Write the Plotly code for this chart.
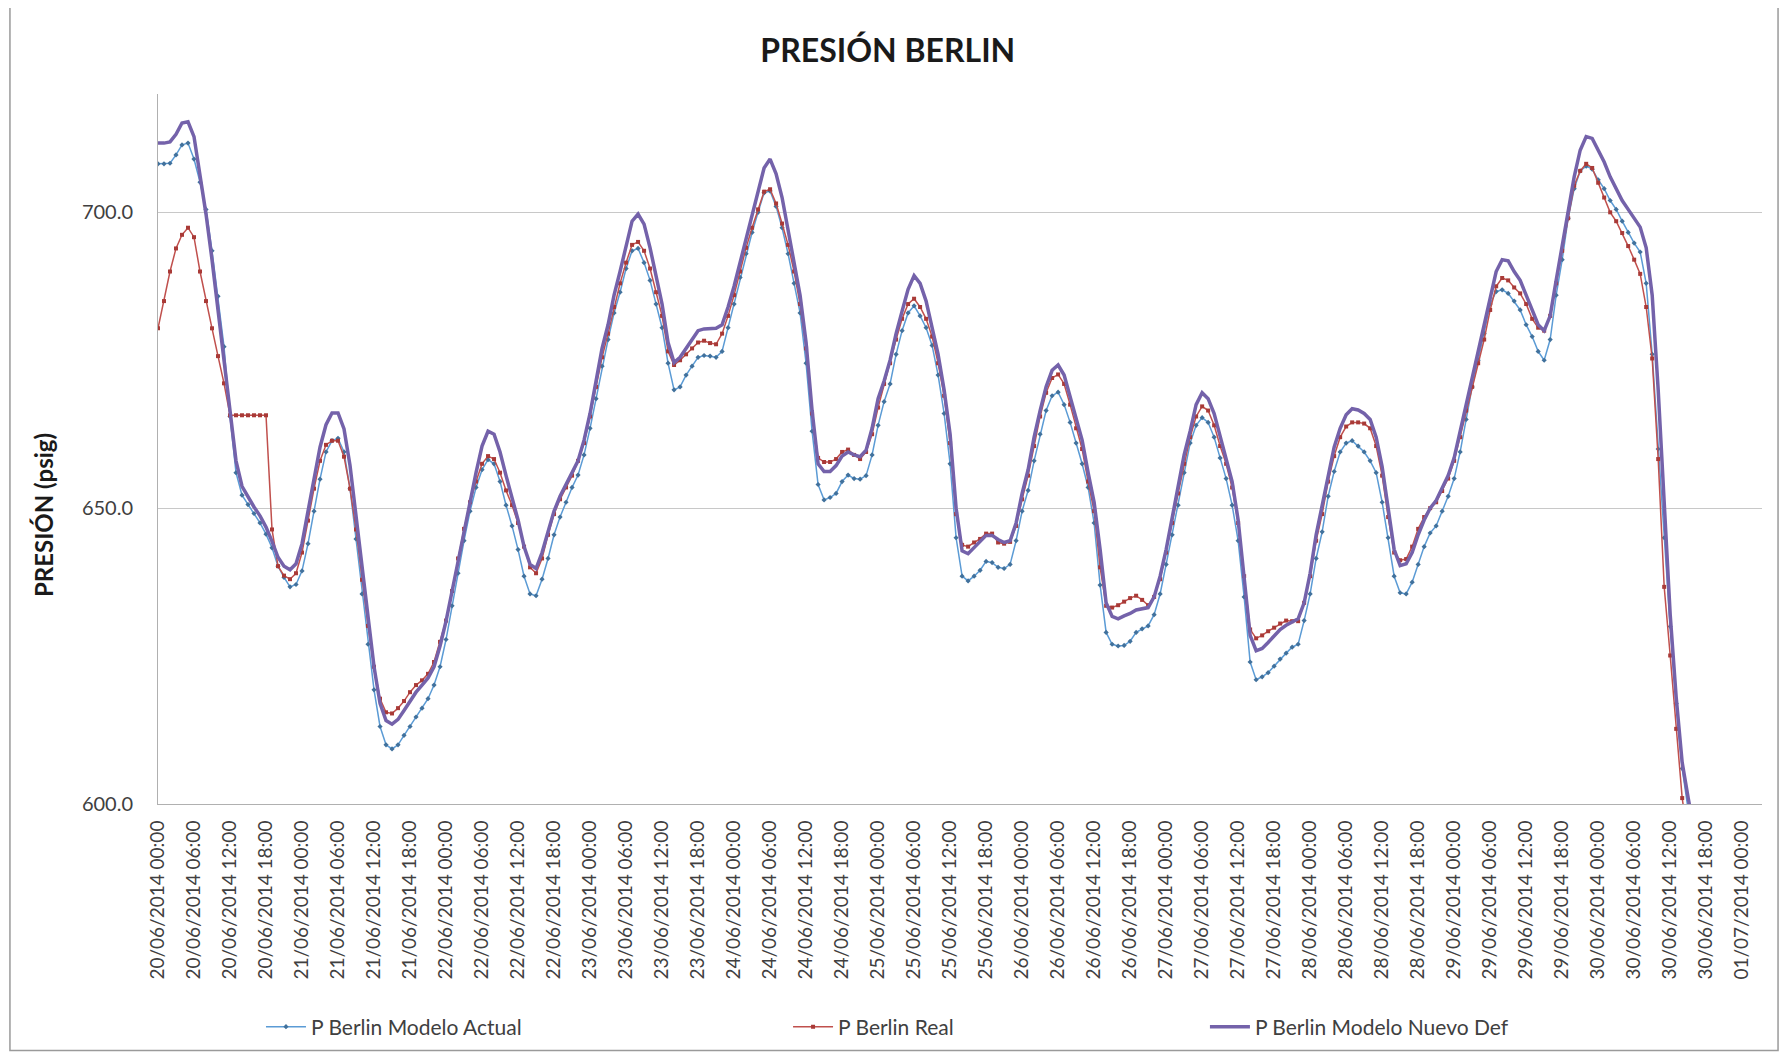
import pandas as pd
import plotly.graph_objects as go

# Serie horaria desde el 20/06/2014 00:00 (un valor por hora)
START = "2014-06-20 00:00"

p_modelo_actual = [
    708.2, 708.2, 708.3, 709.7, 711.4, 711.7, 709.0, 705.1, 700.5, 693.5, 685.8, 677.3, 665.5, 656.0, 652.2, 650.6, 649.1, 647.5, 645.6, 643.3, 640.2, 638.3, 636.7, 637.1,
    639.4, 644.0, 649.5, 654.9, 659.5, 661.4, 661.8, 659.5, 653.3, 644.8, 635.5, 627.0, 619.3, 613.1, 610.0, 609.3, 610.0, 611.6, 613.1, 614.7, 616.2, 617.8, 620.1, 623.2,
    627.8, 633.5, 639.0, 644.5, 649.5, 653.5, 656.5, 658.2, 657.5, 654.5, 650.5, 647.0, 643.0, 638.5, 635.5, 635.2, 638.0, 641.5, 645.5, 648.5, 651.0, 653.5, 655.6, 659.0,
    663.5, 668.5, 674.0, 678.5, 683.0, 686.5, 690.5, 693.5, 693.9, 691.5, 688.5, 684.5, 680.5, 674.5, 670.0, 670.5, 672.5, 674.0, 675.5, 675.8, 675.7, 675.5, 676.5, 680.5,
    684.5, 689.0, 693.0, 696.6, 700.0, 703.3, 703.6, 701.0, 697.4, 693.0, 688.0, 683.0, 674.5, 663.0, 654.0, 651.4, 651.8, 652.5, 654.5, 655.6, 655.0, 654.9, 655.5, 659.0,
    664.0, 668.0, 671.0, 676.0, 680.0, 683.0, 684.2, 682.5, 680.5, 677.5, 672.5, 666.0, 657.5, 645.0, 638.5, 637.7, 638.5, 639.5, 641.0, 640.8, 640.0, 639.8, 640.5, 644.5,
    649.5, 653.0, 658.0, 662.5, 666.5, 669.0, 669.6, 667.5, 664.5, 661.0, 657.5, 653.5, 647.5, 637.0, 629.0, 627.0, 626.7, 626.8, 627.5, 629.0, 629.6, 630.1, 632.0, 635.5,
    640.5, 645.5, 650.5, 656.0, 661.0, 664.0, 665.3, 664.5, 662.0, 658.5, 655.0, 650.5, 644.5, 635.0, 624.0, 621.0, 621.5, 622.2, 623.3, 624.5, 625.5, 626.5, 627.0, 631.0,
    635.5, 641.5, 646.0, 652.0, 656.2, 659.5, 661.0, 661.4, 660.5, 659.5, 658.0, 656.0, 651.0, 645.0, 638.5, 635.7, 635.5, 637.5, 640.5, 643.5, 645.8, 647.0, 649.5, 652.0,
    655.0, 659.5, 665.0, 670.5, 675.0, 679.5, 684.5, 686.6, 686.9, 686.3, 685.0, 683.5, 681.0, 679.0, 676.5, 675.0, 678.5, 686.0, 692.0, 699.0, 704.0, 707.0, 707.8, 707.3,
    705.5, 704.0, 702.0, 700.5, 698.5, 696.6, 694.8, 693.3, 688.0, 676.0, 660.0, 645.0, 630.0, 617.0, 606.0, 599.0, 593.0,
]

p_real = [
    680.4, 685.0, 690.0, 693.9, 696.2, 697.4, 695.8, 690.0, 685.0, 680.4, 675.7, 671.1, 665.7, 665.7, 665.7, 665.7, 665.7, 665.7, 665.7, 646.4, 640.2, 638.6, 638.0, 639.0,
    642.5, 647.9, 653.3, 658.0, 660.7, 661.4, 661.4, 658.7, 653.3, 646.4, 637.9, 630.1, 623.2, 617.8, 615.5, 615.3, 616.2, 617.4, 618.9, 620.1, 620.9, 622.0, 624.0, 627.4,
    631.0, 636.0, 641.5, 646.5, 651.0, 654.5, 657.5, 658.8, 658.3, 656.0, 653.0, 650.5, 647.5, 643.5, 640.0, 639.0, 641.5, 645.5, 649.0, 651.5, 653.5, 655.5, 658.0, 661.0,
    665.5, 670.5, 675.5, 679.5, 684.0, 688.0, 691.5, 694.5, 695.0, 693.5, 690.5, 686.5, 682.5, 676.5, 674.2, 675.0, 676.0, 677.0, 678.0, 678.3, 677.9, 677.7, 679.5, 682.5,
    686.0, 690.0, 694.0, 697.4, 700.5, 703.5, 703.9, 701.5, 698.1, 694.5, 690.0, 684.5, 677.0, 666.0, 658.5, 657.8, 657.8, 658.3, 659.5, 659.9, 659.0, 658.3, 659.5, 662.5,
    667.0, 671.0, 674.5, 678.5, 682.0, 684.5, 685.4, 684.0, 682.0, 679.0, 674.5, 669.0, 661.0, 649.0, 643.8, 643.5, 644.2, 644.8, 645.7, 645.7, 644.2, 644.0, 644.3, 647.0,
    651.5, 655.5, 660.5, 665.5, 669.5, 672.0, 672.6, 671.0, 667.5, 663.5, 660.0, 654.5, 649.5, 640.0, 633.5, 633.2, 633.6, 634.2, 634.8, 635.2, 634.5, 633.6, 635.0, 638.0,
    642.5, 647.5, 652.5, 657.5, 662.0, 665.5, 667.2, 666.5, 664.0, 660.5, 657.5, 653.5, 647.5, 638.5, 629.5, 628.0, 628.5, 629.2, 629.8, 630.5, 631.0, 630.9, 630.9, 634.0,
    638.5, 644.5, 649.0, 654.5, 658.8, 662.0, 663.8, 664.5, 664.5, 664.3, 663.5, 660.5, 655.5, 648.5, 642.5, 641.2, 641.4, 643.5, 646.5, 648.5, 650.0, 651.0, 652.9, 655.0,
    658.0, 662.0, 666.5, 670.5, 674.5, 678.5, 683.5, 687.5, 688.9, 688.5, 687.3, 686.3, 684.5, 682.0, 680.5, 680.0, 682.5, 688.0, 693.5, 699.0, 704.5, 707.0, 708.2, 707.5,
    705.0, 702.5, 700.0, 698.5, 696.5, 694.3, 692.0, 689.6, 684.0, 675.3, 658.3, 636.7, 625.1, 612.7, 601.0, 594.0,
]

p_modelo_nuevo = [
    711.7, 711.7, 711.9, 713.2, 715.1, 715.3, 712.8, 706.6, 699.7, 692.0, 683.5, 674.2, 665.7, 658.0, 653.7, 651.8, 650.2, 648.7, 646.8, 644.4, 641.7, 640.2, 639.6, 640.6,
    644.0, 649.5, 654.9, 660.3, 664.1, 666.1, 666.1, 663.4, 657.2, 648.7, 639.4, 630.9, 623.2, 617.0, 614.1, 613.5, 614.3, 615.8, 617.4, 618.9, 620.1, 621.3, 623.2, 626.7,
    630.9, 636.0, 640.5, 646.0, 651.0, 656.0, 660.5, 663.0, 662.5, 659.5, 655.5, 652.0, 648.0, 643.5, 640.5, 639.8, 642.5, 646.0, 649.5, 652.0, 654.0, 656.0, 658.0, 661.5,
    666.0, 671.5, 677.0, 681.0, 686.0, 690.0, 694.5, 698.5, 699.7, 698.0, 694.0, 689.5, 684.5, 678.0, 674.6, 675.5, 677.0, 678.5, 680.0, 680.3, 680.4, 680.4, 681.0, 684.0,
    687.5, 691.5, 695.5, 699.0, 703.5, 707.5, 709.0, 706.5, 702.5, 697.0, 692.0, 686.0, 678.0, 666.5, 657.5, 656.2, 656.2, 657.2, 658.8, 659.5, 659.0, 658.7, 659.8, 663.5,
    668.5, 671.5, 675.0, 679.5, 683.3, 687.0, 689.3, 688.0, 685.0, 680.5, 676.0, 670.0, 662.5, 650.0, 642.8, 642.3, 643.3, 644.3, 645.4, 645.4, 644.7, 644.2, 644.5, 647.5,
    652.5, 656.5, 662.0, 666.5, 670.5, 673.3, 674.2, 672.5, 669.0, 665.0, 661.5, 656.0, 651.0, 643.0, 634.0, 631.7, 631.3, 631.8, 632.2, 632.8, 633.0, 633.2, 635.0, 638.5,
    643.0, 648.5, 654.0, 659.0, 663.0, 667.5, 669.5, 668.5, 666.0, 662.0, 658.5, 654.5, 648.0, 638.5, 628.5, 625.9, 626.3, 627.3, 628.3, 629.5, 630.2, 630.8, 631.3, 634.0,
    639.0, 645.5, 650.5, 656.0, 660.3, 663.5, 665.8, 666.8, 666.6, 666.0, 665.0, 662.0, 657.0, 650.0, 643.0, 640.3, 640.6, 642.5, 645.5, 648.0, 650.0, 651.3, 653.3, 655.5,
    658.5, 663.0, 667.5, 672.0, 676.5, 681.0, 685.5, 690.0, 692.0, 691.8, 690.0, 688.5, 686.0, 683.5, 681.0, 680.0, 682.5, 688.5, 694.5, 700.5, 706.0, 710.5, 712.8, 712.5,
    710.5, 708.5, 706.0, 704.0, 702.0, 700.5, 699.0, 697.5, 694.0, 686.0, 670.0, 650.0, 632.0, 618.0, 607.0, 601.0, 596.0, 590.0,
]

def horas(vals):
    return pd.date_range(START, periods=len(vals), freq="h")

FONT = "Lato"

fig = go.Figure()

fig.add_trace(go.Scatter(
    x=horas(p_modelo_actual), y=p_modelo_actual, name="P Berlin Modelo Actual",
    mode="lines+markers", showlegend=True,
    line=dict(color="#5B9BD5", width=1.5),
    marker=dict(symbol="diamond", size=4, color="#41719C"),
    legend="legend",
))
fig.add_trace(go.Scatter(
    x=horas(p_real), y=p_real, name="P Berlin Real",
    mode="lines+markers", showlegend=True,
    line=dict(color="#C0504D", width=1.5),
    marker=dict(symbol="square", size=4, color="#A93A37"),
    legend="legend2",
))
fig.add_trace(go.Scatter(
    x=horas(p_modelo_nuevo), y=p_modelo_nuevo, name="P Berlin Modelo Nuevo Def",
    mode="lines", showlegend=True,
    line=dict(color="#7462AA", width=3.5),
    legend="legend3",
))

ley = dict(y=0.0239, yref="container", xanchor="left", yanchor="middle", orientation="h",
           font=dict(family=FONT, size=21, color="#404040"),
           bgcolor="rgba(0,0,0,0)", itemwidth=40, visible=True)

# la página añade 8 px de margen: figura más pequeña y desplazada para que quepa sin scroll
fig.update_layout(
    width=1782, height=1044,
    margin=dict(l=150, r=28, t=86, b=248),
    showlegend=True,
    paper_bgcolor="white", plot_bgcolor="white",
    font=dict(family=FONT, color="#404040"),
    title=dict(text="<b>PRESIÓN BERLIN</b>", x=0.455, xref="paper", xanchor="center",
               y=0.9588, yanchor="middle", font=dict(family=FONT, size=32, color="#1a1a1a")),
    xaxis=dict(
        type="date",
        range=[START, pd.Timestamp(START) + pd.Timedelta(hours=267.3)],
        tick0=START, dtick=6 * 3600 * 1000,
        tickformat="%d/%m/%Y %H:%M", tickangle=-90,
        showgrid=False, showline=True, linecolor="#B0B0B0", linewidth=1,
        ticks="", ticklabelstandoff=8, automargin=False,
        tickfont=dict(family=FONT, size=19, color="#404040"),
    ),
    yaxis=dict(
        range=[600, 720], tick0=600, dtick=50, tickformat=".1f",
        showgrid=True, gridcolor="#C8C8C8", gridwidth=1,
        showline=True, linecolor="#B0B0B0", linewidth=1, zeroline=False,
        ticks="", ticklabelstandoff=20, automargin=False,
        tickfont=dict(family=FONT, size=20, color="#404040"),
    ),
    legend=dict(x=0.0642, **ley),
    legend2=dict(x=0.3928, **ley),
    legend3=dict(x=0.6527, **ley),
    annotations=[dict(
        text="<b>PRESIÓN (psig)</b>", textangle=-90, x=-0.0717, y=0.407,
        xref="paper", yref="paper", showarrow=False, xanchor="center", yanchor="middle",
        font=dict(family=FONT, size=24, color="#1a1a1a"),
    )],
    shapes=[dict(type="rect", xref="paper", yref="paper",
                 x0=-0.0923, x1=1.0100, y0=-0.3472, y1=1.1254,
                 line=dict(color="#9A9A9A", width=1.5), layer="below")],
)

fig.write_html("out.html")
